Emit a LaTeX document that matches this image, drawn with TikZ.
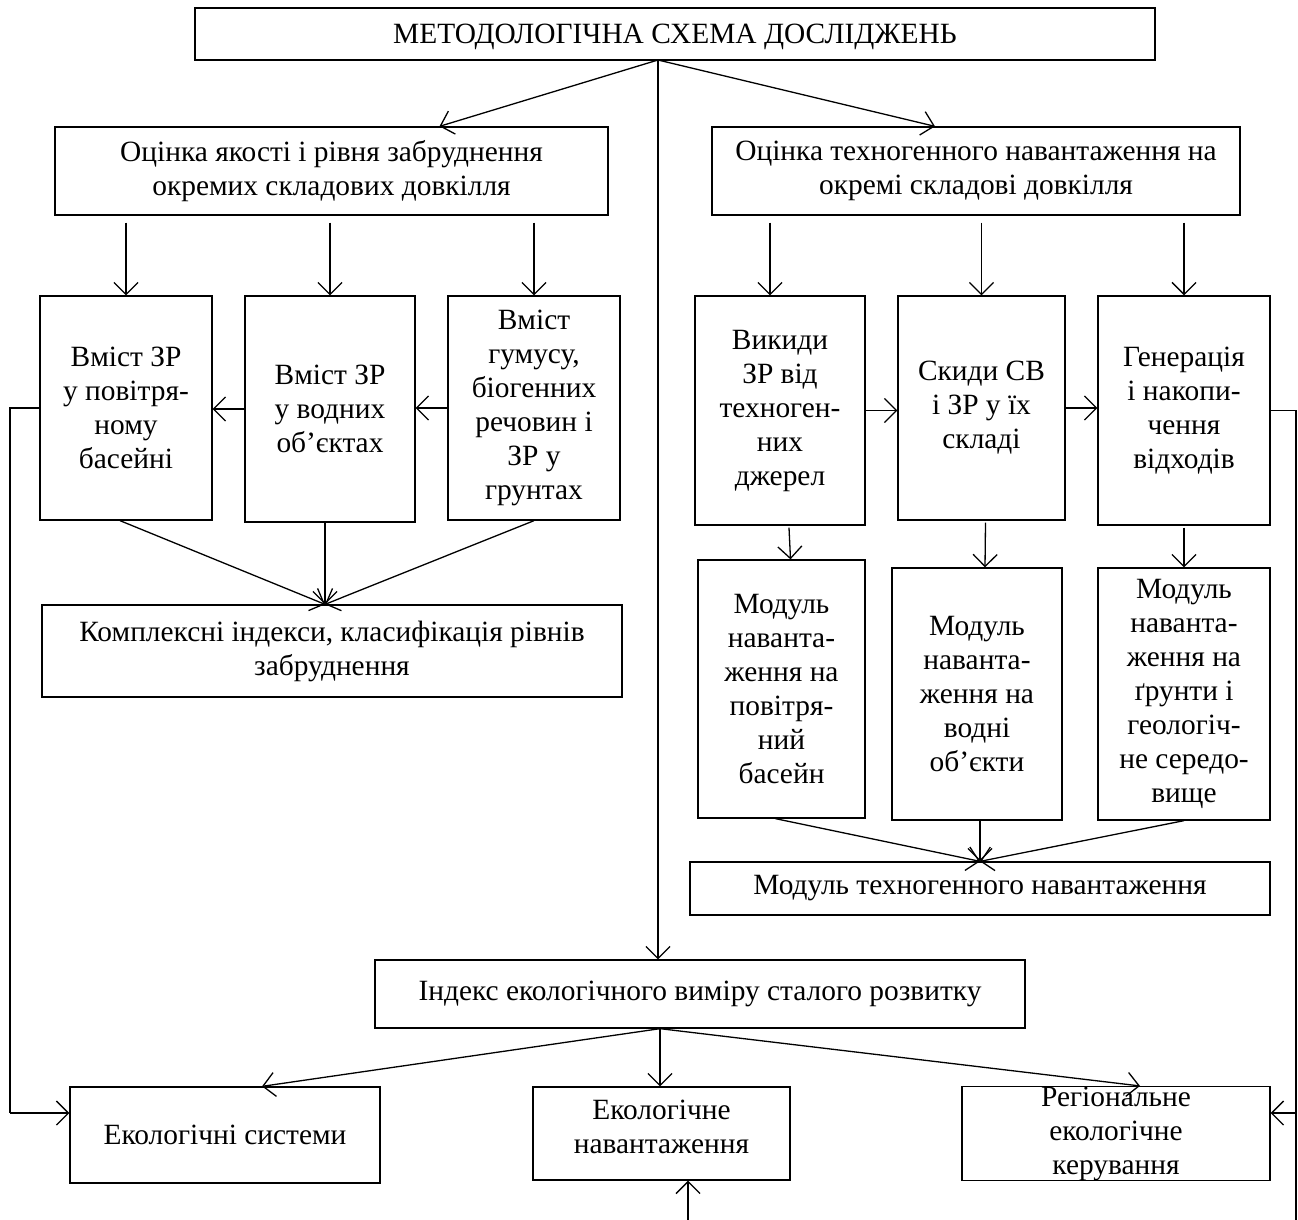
\documentclass[tikz,border=0pt]{standalone}
\usepackage{fontspec}
\setmainfont{Liberation Serif}
\usetikzlibrary{arrows.meta}
\begin{document}
\begin{tikzpicture}[x=1pt,y=-1pt,
  box/.style={draw, rectangle, align=center, inner sep=0pt, line width=1.3pt,
    font=\fontsize{29.4}{34}\selectfont},
  conn/.style={line width=1.3pt},
  arr/.style={conn, -{Straight Barb[length=12pt,width=24pt,line width=1.3pt]}}]
\useasboundingbox (0,0) rectangle (1298,1220);
% nodes
\node[box, minimum width=960pt, minimum height=52pt] (T) at (675,34) {\rule{0pt}{26pt}МЕТОДОЛОГІЧНА СХЕМА ДОСЛІДЖЕНЬ};
\node[box, minimum width=553pt, minimum height=88pt] (L) at (331.5,171) {Оцінка якості і рівня забруднення\\окремих складових довкілля};
\node[box, minimum width=528pt, minimum height=88pt] (R) at (976,171) {Оцінка техногенного навантаження на\\окремі складові довкілля};
\node[box, minimum width=172pt, minimum height=224pt] (B1) at (126,408) {Вміст ЗР\\у повітря-\\ному\\басейні};
\node[box, minimum width=170pt, minimum height=226pt] (B2) at (330,409) {Вміст ЗР\\у водних\\об’єктах};
\node[box, minimum width=172pt, minimum height=224pt] (B3) at (534,408) {Вміст\\гумусу,\\біогенних\\речовин і\\ЗР у\\грунтах};
\node[box, minimum width=170pt, minimum height=229pt] (B4) at (780,410.5) {Викиди\\ЗР від\\техноген-\\них\\джерел};
\node[box, minimum width=167pt, minimum height=224pt] (B5) at (981.5,408) {Скиди СВ\\і ЗР у їх\\складі};
\node[box, minimum width=172pt, minimum height=229pt] (B6) at (1184,410.5) {Генерація\\і накопи-\\чення\\відходів};
\node[box, minimum width=580pt, minimum height=92pt] (K) at (332,651) {Комплексні індекси, класифікація рівнів\\забруднення};
\node[box, minimum width=167pt, minimum height=258pt] (M1) at (781.5,689) {Модуль\\наванта-\\ження на\\повітря-\\ний\\басейн};
\node[box, minimum width=170pt, minimum height=252pt] (M2) at (977,694) {Модуль\\наванта-\\ження на\\водні\\об’єкти};
\node[box, minimum width=172pt, minimum height=252pt] (M3) at (1184,694) {Модуль\\наванта-\\ження на\\ґрунти і\\геологіч-\\не середо-\\вище};
\node[box, minimum width=580pt, minimum height=53pt] (TM) at (980,888.5) {Модуль техногенного навантаження};
\node[box, minimum width=650pt, minimum height=68pt] (I) at (700,994) {Індекс екологічного виміру сталого розвитку};
\node[box, minimum width=310pt, minimum height=96pt] (ES) at (225,1135) {Екологічні системи};
\node[box, minimum width=257pt, minimum height=93pt] (EN) at (661.5,1133.5) {Екологічне\\навантаження\rule[-14pt]{0pt}{14pt}};
\node[box, minimum width=308pt, minimum height=93pt] (RE) at (1116,1133.5) {Регіональне\\екологічне\\керування};
% title connectors
\coordinate (ts) at (658,60);
\draw[arr] (ts) -- ([xshift=108pt]L.north);
\draw[arr] (ts) -- ([xshift=-41pt]R.north);
\draw[arr] (ts) -- (I.north -| ts);
% left block
\draw[arr] ([yshift=-7pt]L.south -| B1.north) -- (B1.north);
\draw[arr] ([yshift=-7pt]L.south -| B2.north) -- (B2.north);
\draw[arr] ([yshift=-7pt]L.south -| B3.north) -- (B3.north);
\draw[arr] (B2.west) -- (B1.east |- B2.west);
\draw[arr] (B3.west) -- (B2.east |- B3.west);
\coordinate (kt) at ([xshift=-7pt]K.north);
\draw[arr] ([xshift=-6pt]B1.south) -- (kt);
\draw[arr] ([xshift=-5pt]B2.south) -- (kt);
\draw[arr] (B3.south) -- (kt);
% right block
\coordinate (r4) at ([xshift=-10pt]B4.north);
\draw[arr] ([yshift=-7pt]R.south -| r4) -- (r4);
\draw[arr] ([yshift=-7pt]R.south -| B5.north) -- (B5.north);
\draw[arr] ([yshift=-7pt]R.south -| B6.north) -- (B6.north);
\draw[arr] (B4.east) -- (B5.west |- B4.east);
\draw[arr] (B5.east) -- (B6.west |- B5.east);
\draw[arr] ([shift={(9pt,-2pt)}]B4.south) -- ([xshift=9pt]M1.north);
\draw[arr] ([shift={(4pt,-2pt)}]B5.south) -- ([xshift=8pt]M2.north);
\draw[arr] ([yshift=-2pt]B6.south) -- (M3.north);
\draw[arr] ([xshift=-6pt]M1.south) -- (TM.north);
\draw[arr] ([xshift=3pt]M2.south) -- (TM.north);
\draw[arr] (M3.south) -- (TM.north);
% index connectors
\coordinate (is) at ([xshift=-40pt]I.south);
\draw[arr] (is) -- ([xshift=37pt]ES.north);
\draw[arr] (is) -- (EN.north -| is);
\draw[arr] (is) -- ([xshift=24pt]RE.north);
% side lines
\coordinate (lx) at (10,1113);
\draw[conn] (B1.west) -- (B1.west -| lx) -- (lx);
\draw[arr] (lx) -- (ES.west |- lx);
\coordinate (rx) at (1296,1113);
\coordinate (rb) at (1296,1220);
\draw[conn] (B6.east) -- (B6.east -| rx) -- (rb);
\draw[arr] (rx) -- (RE.east |- rx);
\coordinate (bb) at (688,1220);
\draw[arr] (bb) -- (EN.south -| bb);
\end{tikzpicture}
\end{document}
